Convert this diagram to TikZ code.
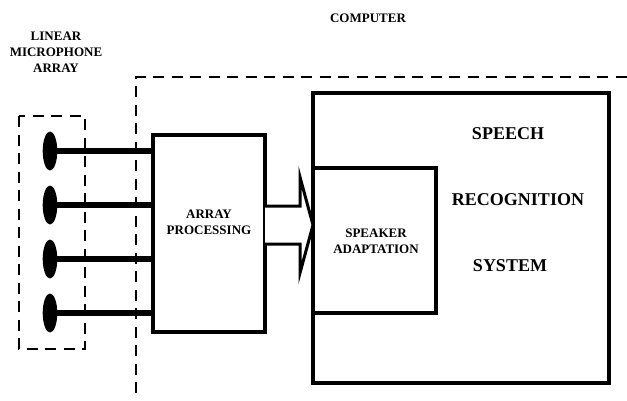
\documentclass[tikz,border=0pt]{standalone}
\usepackage{fontspec}
\setmainfont{Liberation Serif}
\begin{document}
\begin{tikzpicture}[x=1pt,y=-1pt,
  dashln/.style={line width=2.6pt, dash pattern=on 11pt off 7.5pt},
  boxln/.style={line width=3.5pt},
  lab/.style={font=\bfseries\fontsize{13}{16}\selectfont, align=center},
  biglab/.style={font=\bfseries\fontsize{18}{20}\selectfont}]
\useasboundingbox (0,0) rectangle (627,400);
% labels
\node[lab] (comp) at (368,18) {COMPUTER};
\node[lab] (lma) at (56,52) {LINEAR\\MICROPHONE\\ARRAY};
% dashed enclosures
\draw[dashln] (19,116) rectangle (85,349);
\coordinate (c1) at (136,393);
\coordinate (c2) at (136,77);
\coordinate (c3) at (627,77);
\draw[dashln] (c1) -- (c2) -- (c3);
% boxes
\draw[boxln] (153,135) rectangle (265,332);
\node[lab] (aplab) at (209,222) {ARRAY\\PROCESSING};
\draw[boxln] (313,93) rectangle (609,383);
\draw[boxln] (313,168) rectangle (436,313);
\node[lab] (salab) at (376,241) {SPEAKER\\ADAPTATION};
\node[biglab] (s1) at (508,134) {SPEECH};
\node[biglab] (s2) at (518,200) {RECOGNITION};
\node[biglab] (s3) at (510,266) {SYSTEM};
% microphones
\foreach \y/\n in {151/1,205/2,259/3,313/4}{
  \fill (50,\y) ellipse [x radius=7.3, y radius=19.5];
  \coordinate (m\n) at (55,\y);
  \coordinate (p\n) at (153,\y);
  \draw[line width=6.5pt] (m\n) -- (p\n);
}
% big arrow
\draw[line width=3pt, fill=white, line join=miter]
  (265,206) -- (300,206) -- (300,177) -- (313,225) -- (300,273) -- (300,244) -- (265,244);
\end{tikzpicture}
\end{document}
